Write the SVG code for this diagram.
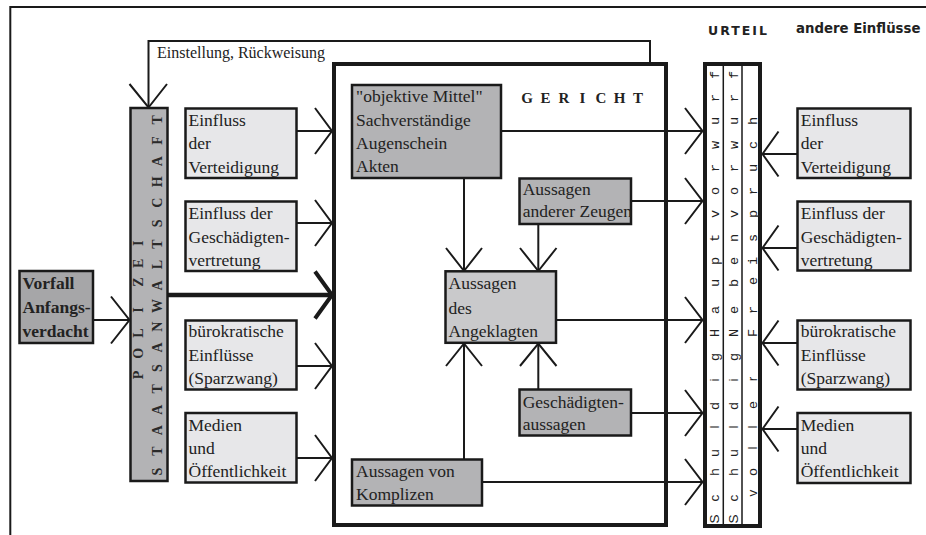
<svg xmlns="http://www.w3.org/2000/svg" width="926" height="535" viewBox="0 0 926 535">
<style>
.ln{fill:none;stroke:#1a1a1a;stroke-width:2}
.ah{fill:none;stroke:#1a1a1a;stroke-width:2;stroke-linejoin:miter}
.thick{fill:none;stroke:#1a1a1a;stroke-width:4.5}
.box{stroke:#1a1a1a;stroke-width:2.5}
.light{fill:#e7e7e9}
.mid{fill:#b3b3b5}
.pale{fill:#c9c9cb}
.dark{fill:#a6a6a8}
.t{font-family:"Liberation Serif","Times New Roman",serif;font-size:17.5px;fill:#222}
.tb{font-family:"Liberation Serif","Times New Roman",serif;font-size:17.5px;font-weight:bold;fill:#222}
.ps{font-family:"Liberation Serif","Times New Roman",serif;font-size:14px;font-weight:bold;fill:#2a2a2a;text-anchor:middle}
.us{font-family:"Liberation Sans",Arial,sans-serif;font-size:13.5px;fill:#222;text-anchor:middle}
.um{font-family:"Liberation Mono","Courier New",monospace;font-size:13.5px;fill:#222;text-anchor:middle}
.hd{font-family:"DejaVu Sans",Verdana,sans-serif;font-size:13.3px;font-weight:bold;fill:#222}
</style>
<rect x="0" y="0" width="926" height="535" fill="#ffffff"/>

<g id="frame">
<path class="ln" d="M10.3,535 V7 H926"/>
</g>

<g id="headers">
<text class="hd" x="708" y="35" letter-spacing="2" style="font-size:12.5px">URTEIL</text>
<text class="hd" x="796" y="33">andere Einflüsse</text>
</g>

<g id="connectors">
<path class="ln" d="M650,64 V41 H148.5 V107"/>
<path class="ah" d="M129.5,84 L148.5,107.5 L167,84"/>
<text class="t" x="157" y="58" style="font-size:16px">Einstellung, Rückweisung</text>

<path class="ln" d="M93,320 H129"/>
<path class="ah" d="M111,296.5 L129.5,320 L111,343.5"/>

<path class="thick" d="M167,295 H330"/>
<path class="ah" d="M315,271.5 L332,295 L315,318.5" style="stroke-width:4"/>

<path class="ln" d="M297,131 H332"/>
<path class="ah" d="M315,108 L332,131 L315,154"/>
<path class="ln" d="M297,223 H332"/>
<path class="ah" d="M315,200 L332,223 L315,246"/>
<path class="ln" d="M297,366 H332"/>
<path class="ah" d="M315,343 L332,366 L315,389"/>
<path class="ln" d="M297,458 H332"/>
<path class="ah" d="M315,435 L332,458 L315,481"/>

<path class="ln" d="M502,131 H702"/>
<path class="ah" d="M685,108 L702.5,131 L685,154"/>
<path class="ln" d="M632,201 H702"/>
<path class="ah" d="M685,178 L702.5,201 L685,224"/>
<path class="ln" d="M557,320 H702"/>
<path class="ah" d="M685,297 L702.5,320 L685,343"/>
<path class="ln" d="M632,413 H702"/>
<path class="ah" d="M685,390 L702.5,413 L685,436"/>
<path class="ln" d="M483,482 H702"/>
<path class="ah" d="M685,459 L702.5,482 L685,505"/>

<path class="ln" d="M464,179 V270"/>
<path class="ah" d="M446,248 L464,271 L482,248"/>
<path class="ln" d="M538.3,225 V270"/>
<path class="ah" d="M520,248 L538.3,271 L556.5,248"/>
<path class="ln" d="M464,459 V344"/>
<path class="ah" d="M446,366 L464,343.5 L482,366"/>
<path class="ln" d="M538.3,389 V344"/>
<path class="ah" d="M520,366 L538.3,343.5 L556.5,366"/>

<path class="ln" d="M797,154 H763"/>
<path class="ah" d="M778.5,131.5 L762.5,154 L778.5,176.5"/>
<path class="ln" d="M797,248 H763"/>
<path class="ah" d="M778.5,225.5 L762.5,248 L778.5,270.5"/>
<path class="ln" d="M797,343 H763"/>
<path class="ah" d="M778.5,320.5 L762.5,343 L778.5,365.5"/>
<path class="ln" d="M797,429 H763"/>
<path class="ah" d="M778.5,406.5 L762.5,429 L778.5,451.5"/>
</g>

<g id="vorfall">
<rect class="box dark" x="19.5" y="271" width="73.5" height="72"/>
<text class="tb" x="22.5" y="288.5">Vorfall</text>
<text class="tb" x="22.5" y="312.5">Anfangs-</text>
<text class="tb" x="22.5" y="336.5">verdacht</text>
</g>

<g id="polizei-staatsanwaltschaft">
<rect class="box mid" x="130.5" y="108" width="37" height="373"/>
<g transform="rotate(-90)">
<text class="ps" y="143" x="-375 -353.3 -333 -310 -282 -263.3 -243.3">POLIZEI</text>
<text class="ps" y="162" x="-471.7 -451 -430.3 -409.6 -388.9 -368.2 -347.5 -326.8 -306.1 -285.4 -264.7 -244 -223.3 -202.6 -181.9 -161.2 -140.5 -119.8">STAATSANWALTSCHAFT</text>
</g>
</g>

<g id="einfluss-verteidigung-l">
<rect class="box light" x="185.5" y="108.5" width="111" height="69.5"/>
<text class="t" x="188.5" y="126">Einfluss</text>
<text class="t" x="188.5" y="149.3">der</text>
<text class="t" x="188.5" y="172.7">Verteidigung</text>
</g>
<g id="einfluss-geschaedigten-l">
<rect class="box light" x="185.5" y="201.5" width="111" height="69.5"/>
<text class="t" x="188.5" y="218.5">Einfluss der</text>
<text class="t" x="188.5" y="242.5">Geschädigten-</text>
<text class="t" x="188.5" y="266">vertretung</text>
</g>
<g id="buerokratische-l">
<rect class="box light" x="185.5" y="320.5" width="111" height="69"/>
<text class="t" x="188.5" y="337">bürokratische</text>
<text class="t" x="188.5" y="360.5">Einflüsse</text>
<text class="t" x="188.5" y="384">(Sparzwang)</text>
</g>
<g id="medien-l">
<rect class="box light" x="185.5" y="413" width="111" height="69.5"/>
<text class="t" x="188.5" y="430.7">Medien</text>
<text class="t" x="188.5" y="454">und</text>
<text class="t" x="188.5" y="477">Öffentlichkeit</text>
</g>

<g id="gericht">
<rect x="334" y="64" width="332" height="461" fill="none" stroke="#1a1a1a" stroke-width="4"/>
<text class="tb" style="font-size:15px;text-anchor:middle" y="102.7" x="527 545.5 564 582.5 601 619.5 638">GERICHT</text>
</g>

<g id="objektive-mittel">
<rect class="box mid" x="352" y="85" width="149" height="93"/>
<text class="t" x="356" y="102.3">"objektive Mittel"</text>
<text class="t" x="356" y="125.6">Sachverständige</text>
<text class="t" x="356" y="149">Augenschein</text>
<text class="t" x="356" y="172.3">Akten</text>
</g>

<g id="aussagen-zeugen">
<rect class="box mid" x="519.5" y="178.5" width="111.5" height="45.5"/>
<text class="t" x="522.7" y="195">Aussagen</text>
<text class="t" x="522.7" y="217">anderer Zeugen</text>
</g>

<g id="aussagen-angeklagten">
<rect class="box pale" x="445.5" y="271.3" width="110.5" height="71.5"/>
<text class="t" x="448.5" y="289">Aussagen</text>
<text class="t" x="448.5" y="313.5">des</text>
<text class="t" x="448.5" y="336.7">Angeklagten</text>
</g>

<g id="geschaedigtenaussagen">
<rect class="box mid" x="519.5" y="389.5" width="111.5" height="46"/>
<text class="t" x="522.7" y="408.3">Geschädigten-</text>
<text class="t" x="522.7" y="430">aussagen</text>
</g>

<g id="komplizen">
<rect class="box mid" x="352" y="459.5" width="130" height="46"/>
<text class="t" x="356" y="476.7">Aussagen von</text>
<text class="t" x="356" y="500">Komplizen</text>
</g>

<g id="urteil">
<rect x="705" y="64" width="55" height="462" fill="#ffffff" stroke="#1a1a1a" stroke-width="4"/>
<path class="ln" d="M723.3,64 V526 M742,64 V526" style="stroke-width:1.5"/>
<g transform="rotate(-90)">
<text y="719"><tspan class="us" x="-519 -498 -472 -453 -427 -406 -380 -357">Schuldig</tspan><tspan class="um" x="-333 -310 -283 -261 -238 -214 -191 -168 -145 -121 -98 -75">Hauptvorwurf</tspan></text>
<text y="738"><tspan class="us" x="-519 -498 -472 -453 -427 -406 -380 -357">Schuldig</tspan><tspan class="um" x="-333 -310 -283 -261 -238 -214 -191 -168 -145 -121 -98 -75">Nebenvorwurf</tspan></text>
<text y="756.5"><tspan class="us" x="-493 -472 -448 -427 -405 -379">voller</tspan><tspan class="um" x="-333 -310 -281 -261 -238 -214 -191 -168 -145 -121">Freispruch</tspan></text>
</g>
</g>

<g id="einfluss-verteidigung-r">
<rect class="box light" x="797.5" y="108.5" width="113" height="69.5"/>
<text class="t" x="800.7" y="126">Einfluss</text>
<text class="t" x="800.7" y="149.3">der</text>
<text class="t" x="800.7" y="172.7">Verteidigung</text>
</g>
<g id="einfluss-geschaedigten-r">
<rect class="box light" x="797.5" y="201.5" width="113" height="69"/>
<text class="t" x="800.7" y="218.5">Einfluss der</text>
<text class="t" x="800.7" y="242.5">Geschädigten-</text>
<text class="t" x="800.7" y="266">vertretung</text>
</g>
<g id="buerokratische-r">
<rect class="box light" x="797.5" y="320.5" width="113" height="69"/>
<text class="t" x="800.7" y="337">bürokratische</text>
<text class="t" x="800.7" y="360.5">Einflüsse</text>
<text class="t" x="800.7" y="384">(Sparzwang)</text>
</g>
<g id="medien-r">
<rect class="box light" x="797.5" y="413" width="113" height="70"/>
<text class="t" x="800.7" y="430.7">Medien</text>
<text class="t" x="800.7" y="454">und</text>
<text class="t" x="800.7" y="477">Öffentlichkeit</text>
</g>
</svg>
